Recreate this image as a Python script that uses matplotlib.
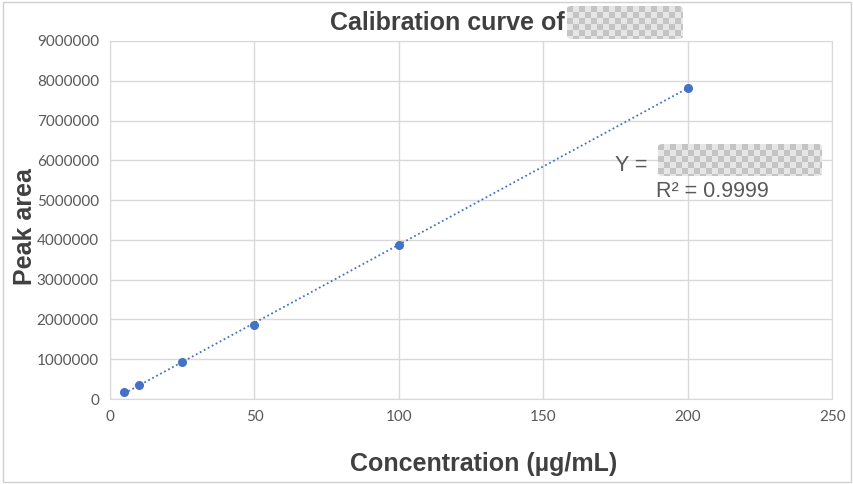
import numpy as np
import matplotlib.pyplot as plt
from matplotlib.patches import FancyBboxPatch, Rectangle

# data
conc = [5, 10, 25, 50, 100, 200]
area = [175000, 350000, 930000, 1860000, 3880000, 7830000]
x_ticks = [0, 50, 100, 150, 200, 250]
y_ticks = [0, 1000000, 2000000, 3000000, 4000000, 5000000, 6000000, 7000000, 8000000, 9000000]
r2_text = "R² = 0.9999"

blue = "#4472C4"
grid_c = "#d9d9d9"
tick_c = "#595959"

fig = plt.figure(figsize=(8.54, 4.84), dpi=100)
ax = fig.add_axes([0.1288, 0.1756, 0.8460, 0.7397])

# linear trendline
k, b = np.polyfit(conc, area, 1)
xl = np.array([min(conc), max(conc)])
ax.plot(xl, k * xl + b, linestyle=(0, (1, 1.5)), color=blue, lw=1.3, zorder=2)
ax.plot(conc, area, "o", color=blue, markersize=5.5, zorder=3)

ax.set_xlim(0, 250)
ax.set_ylim(0, 9000000)
ax.set_xticks(x_ticks)
ax.set_yticks(y_ticks)
ax.set_yticklabels([str(v) for v in y_ticks])
ax.grid(True, color=grid_c, lw=1)
ax.set_axisbelow(True)
for s in ax.spines.values():
    s.set_color(grid_c)
ax.tick_params(length=0, labelsize=11, labelcolor=tick_c, pad=8)
for lab in ax.get_xticklabels() + ax.get_yticklabels():
    lab.set_fontfamily("Lato")

ax.set_xlabel("Concentration (µg/mL)", fontsize=18, fontweight="bold", color="#404040",
              family="Liberation Sans", labelpad=20, x=0.517)
ax.set_ylabel("Peak area", fontsize=18, fontweight="bold", color="#404040",
              family="Liberation Sans", labelpad=0, y=0.483)

fig.text(0.386, 0.952, "Calibration curve of", fontsize=18, fontweight="bold",
         color="#404040", family="Liberation Sans", va="center")
fig.text(0.720, 0.659, "Y = ", fontsize=15.5, color=tick_c, family="Liberation Sans", va="center")
fig.text(0.768, 0.605, r2_text, fontsize=15.5, color=tick_c, family="Liberation Sans", va="center")


def checker(x0, y0, w, h):
    # redacted box, pixel coords from top-left
    W, H = 854, 484
    bx = FancyBboxPatch((x0 / W, 1 - (y0 + h) / H), w / W, h / H,
                        boxstyle="round,pad=0,rounding_size=0.006",
                        transform=fig.transFigure, fc="#e6e6e6", ec="none", zorder=5)
    fig.patches.append(bx)
    sq = 6
    for i in range(int(w // sq) + 1):
        for j in range(int(h // sq) + 1):
            if (i + j) % 2 == 0:
                r = Rectangle(((x0 + i * sq) / W, 1 - (y0 + (j + 1) * sq) / H), sq / W, sq / H,
                              transform=fig.transFigure, fc="#c4c4c4", ec="none", zorder=6)
                r.set_clip_path(bx)
                fig.patches.append(r)


checker(567, 6, 116, 33)
checker(658, 144, 164, 32)

fig.patches.append(Rectangle((0.003, 0.005), 0.993, 0.99, transform=fig.transFigure,
                             fill=False, ec="#d0d0d0", lw=1))

fig.savefig("out.png", dpi=100)
